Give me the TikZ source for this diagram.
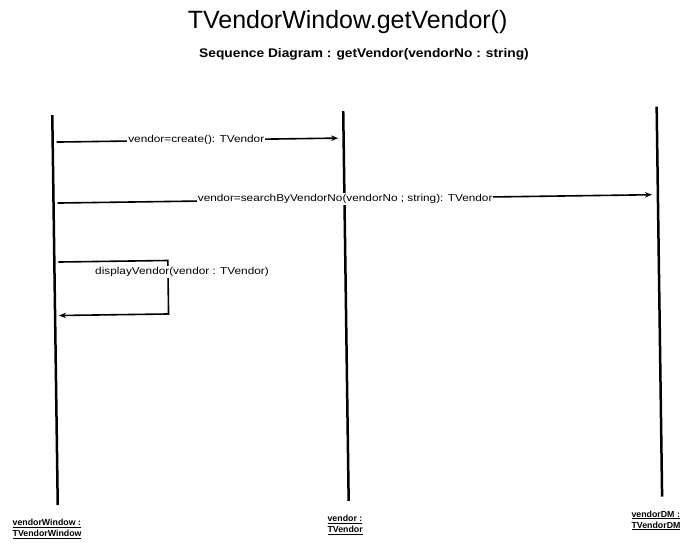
\documentclass[tikz,border=0pt]{standalone}
\usepackage{fontspec}
\setmainfont{Liberation Sans}
\usetikzlibrary{arrows.meta}
\begin{document}
\begin{tikzpicture}[x=1pt,y=-1pt,
  lifeline/.style={line width=2.5pt},
  msg/.style={line width=1.6pt,-{Stealth[length=7pt,width=5.5pt]}},
  msglabel/.style={fill=white,inner sep=1pt,font=\fontsize{10}{12}\selectfont},
  objlabel/.style={align=left,anchor=north west,inner sep=0pt,font=\fontsize{8.8}{11}\selectfont\bfseries},
]
\useasboundingbox (0,0) rectangle (697,545);
\begin{scope}[rotate around={0.8:(348,272)}]
% titles
\node[anchor=base, font=\fontsize{25}{30}\selectfont] (title) at (351,29) {TVendorWindow.getVendor()};
\node[anchor=base, font=\fontsize{12.5}{15}\selectfont\bfseries] (subtitle) at (367,58) {\scalebox{1.1}[1]{Sequence Diagram : getVendor(vendorNo : string)}};
% lifelines
\coordinate (w1t) at (54.5,111); \coordinate (w1b) at (54.5,501);
\coordinate (v1t) at (345.5,111); \coordinate (v1b) at (345.5,501);
\coordinate (d1t) at (659,111); \coordinate (d1b) at (659,501);
\draw[lifeline] (w1t) -- (w1b);
\draw[lifeline] (v1t) -- (v1b);
\draw[lifeline] (d1t) -- (d1b);
% object labels
\node[objlabel] (objW) at (9,514.5) {\underline{vendorWindow :}\\\underline{TVendorWindow}};
\node[objlabel] (objV) at (324,514.5) {\underline{vendor :}\\\underline{TVendor}};
\node[objlabel] (objD) at (628,514.5) {\underline{vendorDM :}\\\underline{TVendorDM}};
% message 1
\coordinate (m1s) at (58.5,138); \coordinate (m1e) at (340,138);
\draw[msg] (m1s) -- node[msglabel, pos=0.496] (m1label) {\scalebox{1.18}[1]{vendor=create(): TVendor}} (m1e);
% message 2
\coordinate (m2s) at (58.5,199); \coordinate (m2e) at (653,199);
\draw[msg] (m2s) -- node[msglabel, pos=0.484] (m2label) {\scalebox{1.18}[1]{vendor=searchByVendorNo(vendorNo ; string): TVendor}} (m2e);
% self message
\coordinate (s1) at (58.5,258); \coordinate (s2) at (168,258);
\coordinate (s3) at (168,311.5); \coordinate (s4) at (58.5,311.5);
\draw[msg] (s1) -- (s2) -- (s3) -- (s4);
\node[msglabel] (s1label) at (182,269.7) {\scalebox{1.18}[1]{displayVendor(vendor : TVendor)}};
\end{scope}
\end{tikzpicture}
\end{document}
